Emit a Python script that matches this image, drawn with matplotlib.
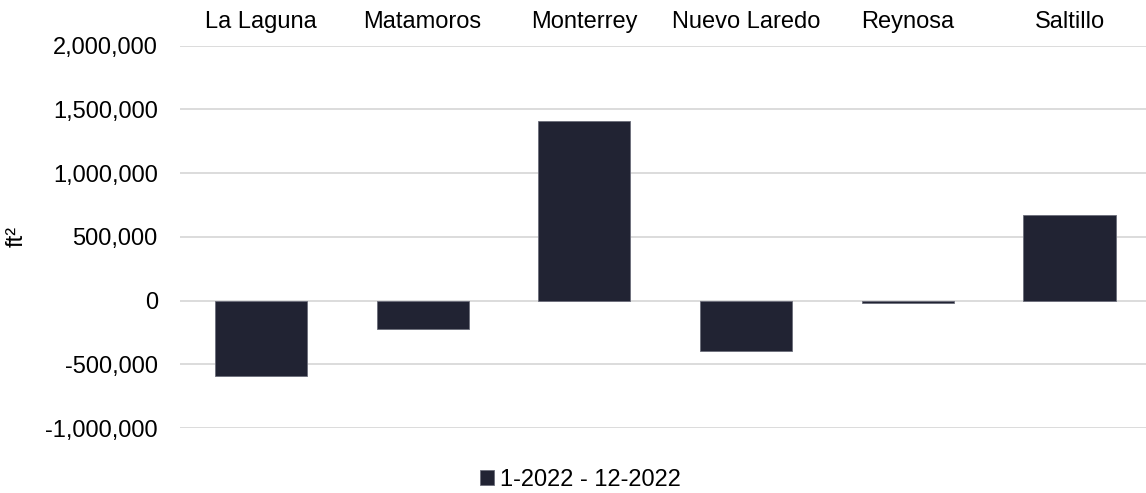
import matplotlib
matplotlib.use("Agg")
import matplotlib.pyplot as plt
from matplotlib.ticker import FuncFormatter

# ── Data ─────────────────────────────────────────────────────────────────────
markets = ["La Laguna", "Matamoros", "Monterrey", "Nuevo Laredo", "Reynosa", "Saltillo"]
net_absorption = [-590000, -225000, 1408000, -397000, -20000, 668000]
series_label = "1-2022 - 12-2022"
y_ticks = [-1000000, -500000, 0, 500000, 1000000, 1500000, 2000000]

C_BAR = "#212333"
C_GRID = "#d9d9d9"

plt.rcParams["font.family"] = ["Liberation Sans", "DejaVu Sans"]

# ── Plot ─────────────────────────────────────────────────────────────────────
fig = plt.figure(figsize=(11.46, 4.93), dpi=100)
ax = fig.add_axes([0.1571, 0.1318, 0.8429, 0.7759])

x = list(range(len(markets)))
ax.bar(x, net_absorption, width=0.57, color=C_BAR, edgecolor="#6b6d7a",
       linewidth=0.6, label=series_label, zorder=3)

ax.set_ylim(-1000000, 2000000)
ax.set_yticks(y_ticks)
ax.yaxis.set_major_formatter(FuncFormatter(lambda v, _: f"{v:,.0f}"))
ax.set_xlim(-0.5, 5.473)

# category labels sit above the plot
ax.xaxis.tick_top()
ax.set_xticks(x)
ax.set_xticklabels(markets)

ax.tick_params(axis="x", length=0, pad=9, labelsize=17)
ax.tick_params(axis="y", length=0, pad=16, labelsize=17)

ax.grid(True, axis="y", color=C_GRID, linewidth=1.3, zorder=0)
for s in ax.spines.values():
    s.set_visible(False)

ax.set_ylabel("ft²", fontsize=17, va="center")
ax.yaxis.set_label_coords(-0.1687, 0.5)

fig.legend(loc="center", bbox_to_anchor=(580 / 1146, 1 - 480 / 493),
           frameon=False, fontsize=17, handlelength=0.6, handleheight=0.6,
           handletextpad=0.25, borderpad=0)

fig.savefig("out.png", dpi=100)
